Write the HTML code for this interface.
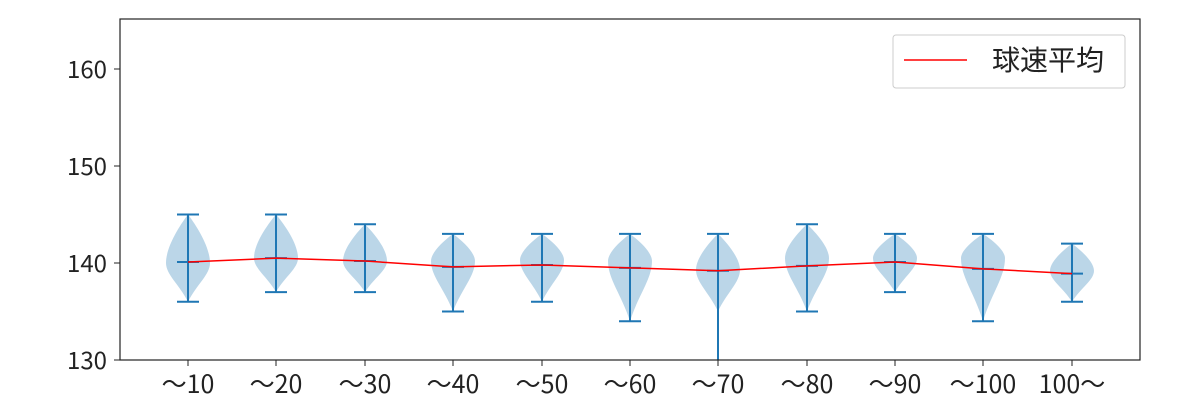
<!DOCTYPE html>
<html><head><meta charset="utf-8"><style>body{margin:0;background:#fff}svg{display:block}text{font-family:"Noto Sans CJK JP","Liberation Sans",sans-serif;fill:#222}</style></head>
<body>
<svg id="s" width="1200" height="400" xmlns="http://www.w3.org/2000/svg">
<rect x="0" y="0" width="1200" height="400" fill="#fff"/>
<g id="v"></g>
<rect x="120" y="19" width="1020" height="341" fill="none" stroke="#222" stroke-width="1.2"/>
<g font-size="24" text-anchor="end">
<line x1="114" y1="360" x2="120" y2="360" stroke="#222"/><text x="107" y="369">130</text>
<line x1="114" y1="263" x2="120" y2="263" stroke="#222"/><text x="107" y="272">140</text>
<line x1="114" y1="166" x2="120" y2="166" stroke="#222"/><text x="107" y="175">150</text>
<line x1="114" y1="69" x2="120" y2="69" stroke="#222"/><text x="107" y="78">160</text>
</g>
<rect x="893" y="35" width="232" height="53" rx="3" fill="#fff" stroke="#ccc"/>
<line x1="904" y1="60" x2="967" y2="60" stroke="red" stroke-width="1.5"/>
<text x="992" y="70" font-size="28">球速平均</text>
</svg>
<script>
var xs=[188,276,365,453,542,630,718,807,895,983,1072];
var lab=["～10","～20","～30","～40","～50","～60","～70","～80","～90","～100","100～"];
var mn=[136,137,137,135,136,134,130,135,137,134,136],mx=[145,145,144,143,143,143,143,144,143,143,142];
var me=[140.1,140.5,140.2,139.6,139.8,139.5,139.2,139.7,140.1,139.4,138.9];
var mo=[140,140.5,140.2,140.2,140.3,140.2,139.3,140.5,140.5,140.5,139.2];
var w=[22,22,22,22,22,22,22,22,22,22,22];
function Y(v){return 360-(v-130)*9.7}
var s="",pts=[];
for(var i=0;i<11;i++){var c=xs[i],t=Y(mx[i]),b=Y(i==6?135:mn[i]),m=Y(mo[i]),W=w[i];
var p="M"+c+","+t;
p+=" C"+(c+W*0.5)+","+(t+(m-t)*0.3)+" "+(c+W)+","+(m-(m-t)*0.3)+" "+(c+W)+","+m;
p+=" C"+(c+W)+","+(m+(b-m)*0.3)+" "+(c+W*0.4)+","+(b-(b-m)*0.45)+" "+c+","+b;
p+=" C"+(c-W*0.4)+","+(b-(b-m)*0.45)+" "+(c-W)+","+(m+(b-m)*0.3)+" "+(c-W)+","+m;
p+=" C"+(c-W)+","+(m-(m-t)*0.3)+" "+(c-W*0.5)+","+(t+(m-t)*0.3)+" "+c+","+t+"Z";
s+='<path d="'+p+'" fill="#1f77b4" fill-opacity="0.3"/>';
var bb=Y(mn[i]);
s+='<g stroke="#1f77b4" stroke-width="2"><line x1="'+c+'" y1="'+t+'" x2="'+c+'" y2="'+bb+'"/>';
s+='<line x1="'+(c-11)+'" y1="'+t+'" x2="'+(c+11)+'" y2="'+t+'"/>';
if(i!=6)s+='<line x1="'+(c-11)+'" y1="'+bb+'" x2="'+(c+11)+'" y2="'+bb+'"/>';
s+='<line x1="'+(c-11)+'" y1="'+Y(me[i])+'" x2="'+(c+11)+'" y2="'+Y(me[i])+'"/></g>';
s+='<line x1="'+c+'" y1="360" x2="'+c+'" y2="366" stroke="#222"/>';
s+='<text x="'+c+'" y="393" font-size="25" text-anchor="middle">'+lab[i]+'</text>';
pts.push(c+","+Y(me[i]));}
s+='<polyline points="'+pts.join(" ")+'" fill="none" stroke="red" stroke-width="1.5"/>';
document.getElementById("v").innerHTML=s;
</script>
</body></html>
